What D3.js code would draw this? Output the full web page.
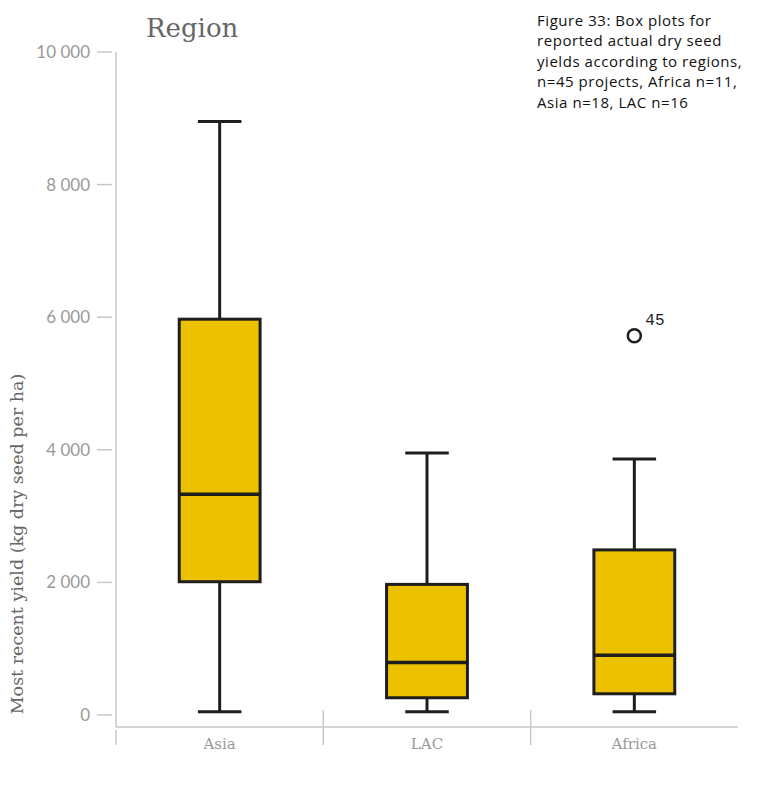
<!DOCTYPE html>
<html>
<head>
<meta charset="utf-8">
<script src="https://cdn.jsdelivr.net/npm/d3@7"></script>
<style>
  body { margin: 0; background: #fff; }
</style>
</head>
<body>
<svg id="chart" width="766" height="797"></svg>
<script>
const regions = ["Asia", "LAC", "Africa"];
const lowWhisker = [50, 50, 50];
const q1 = [2010, 260, 320];
const median = [3330, 790, 900];
const q3 = [5970, 1970, 2490];
const highWhisker = [8950, 3950, 3860];
const outliers = [{ region: "Africa", value: 5720, label: "45" }];
const yTicks = [0, 2000, 4000, 6000, 8000, 10000];
const caption = [
    "Figure 33: Box plots for",
    "reported actual dry seed",
    "yields according to regions,",
    "n=45 projects, Africa n=11,",
    "Asia n=18, LAC n=16"
];

const data = regions.map((r, i) => ({
    region: r,
    lo: lowWhisker[i], q1: q1[i], med: median[i], q3: q3[i], hi: highWhisker[i]
}));

const svg = d3.select("#chart");
const slab = "'DejaVu Serif', serif";

const x = d3.scaleBand()
    .domain(regions)
    .range([116, 738]);

const y = d3.scaleLinear()
    .domain([0, 10000])
    .range([715, 52]);

const fmt = d => d3.format(",")(d).replace(",", " ");

// y axis
svg.append("line")
    .attr("x1", 116).attr("x2", 116)
    .attr("y1", 52).attr("y2", 727)
    .attr("stroke", "#c8c8c8").attr("stroke-width", 1.5);

const yAxis = svg.append("g");
yTicks.forEach(t => {
    yAxis.append("line")
        .attr("x1", 97).attr("x2", 112)
        .attr("y1", y(t)).attr("y2", y(t))
        .attr("stroke", "#c8c8c8").attr("stroke-width", 1.5);
    yAxis.append("text")
        .attr("x", 90).attr("y", y(t))
        .attr("dy", "0.35em")
        .attr("text-anchor", "end")
        .style("font-family", "Lato, sans-serif")
        .style("font-size", "17px")
        .style("fill", "#9a9a9a")
        .text(fmt(t));
});

// x axis
svg.append("line")
    .attr("x1", 116).attr("x2", 738)
    .attr("y1", 727).attr("y2", 727)
    .attr("stroke", "#c8c8c8").attr("stroke-width", 1.5);

regions.forEach((r, i) => {
    svg.append("line")
        .attr("x1", x(r)).attr("x2", x(r))
        .attr("y1", i === 0 ? 730 : 710).attr("y2", 745)
        .attr("stroke", "#c8c8c8").attr("stroke-width", 1.5);
    svg.append("text")
        .attr("x", x(r) + x.bandwidth() / 2)
        .attr("y", 749)
        .attr("text-anchor", "middle")
        .style("font-family", slab)
        .style("font-size", "15px")
        .style("fill", "#9a9a9a")
        .text(r);
});

// boxes
const boxW = x.bandwidth() * 0.39;
const capW = x.bandwidth() * 0.21;
const ink = "#1e1e1e";

const g = svg.selectAll(".box")
    .data(data)
    .enter()
    .append("g")
    .attr("class", "box")
    .attr("transform", d => `translate(${x(d.region) + x.bandwidth() / 2},0)`);

g.append("line")
    .attr("x1", 0).attr("x2", 0)
    .attr("y1", d => y(d.hi)).attr("y2", d => y(d.lo))
    .attr("stroke", ink).attr("stroke-width", 3);

g.append("line")
    .attr("x1", -capW / 2).attr("x2", capW / 2)
    .attr("y1", d => y(d.hi)).attr("y2", d => y(d.hi))
    .attr("stroke", ink).attr("stroke-width", 3);

g.append("line")
    .attr("x1", -capW / 2).attr("x2", capW / 2)
    .attr("y1", d => y(d.lo)).attr("y2", d => y(d.lo))
    .attr("stroke", ink).attr("stroke-width", 3);

g.append("rect")
    .attr("x", -boxW / 2)
    .attr("width", boxW)
    .attr("y", d => y(d.q3))
    .attr("height", d => y(d.q1) - y(d.q3))
    .attr("fill", "#ebc100")
    .attr("stroke", ink).attr("stroke-width", 3);

g.append("line")
    .attr("x1", -boxW / 2).attr("x2", boxW / 2)
    .attr("y1", d => y(d.med)).attr("y2", d => y(d.med))
    .attr("stroke", ink).attr("stroke-width", 3.5);

// outliers
outliers.forEach(o => {
    const cx = x(o.region) + x.bandwidth() / 2;
    svg.append("circle")
        .attr("cx", cx).attr("cy", y(o.value))
        .attr("r", 6.5)
        .attr("fill", "#fff")
        .attr("stroke", ink).attr("stroke-width", 2.5);
    svg.append("text")
        .attr("x", cx + 11).attr("y", y(o.value) - 11)
        .style("font-family", "'Liberation Mono', monospace")
        .style("font-size", "16px")
        .style("fill", ink)
        .text(o.label);
});

// title
svg.append("text")
    .attr("x", 146).attr("y", 37)
    .style("font-family", slab)
    .style("font-size", "26px")
    .style("fill", "#666")
    .text("Region");

// y label
svg.append("text")
    .attr("transform", "translate(23,544) rotate(-90)")
    .attr("text-anchor", "middle")
    .style("font-family", slab)
    .style("font-size", "17.5px")
    .style("fill", "#666")
    .text("Most recent yield (kg dry seed per ha)");

// caption
const cap = svg.append("text")
    .style("font-family", "'Open Sans', sans-serif")
    .style("font-size", "15px")
    .style("letter-spacing", "0.55px")
    .style("fill", "#111");
caption.forEach((line, i) => {
    cap.append("tspan")
        .attr("x", 537)
        .attr("y", 26 + i * 20.4)
        .text(line);
});
</script>
</body>
</html>
